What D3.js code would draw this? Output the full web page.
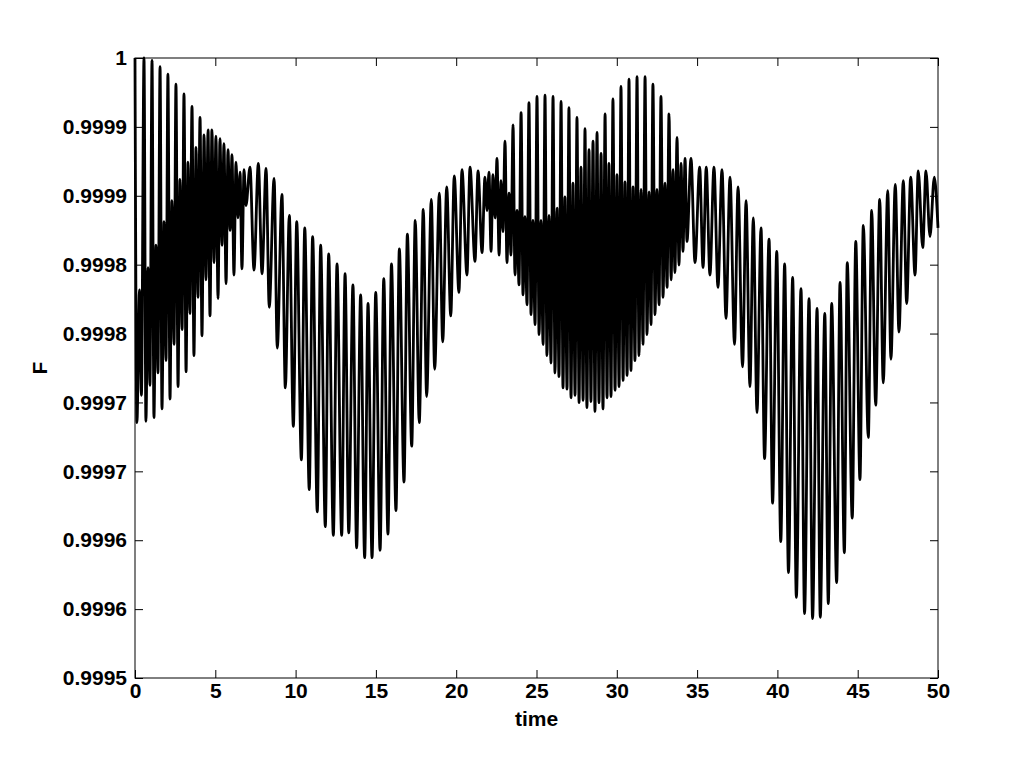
<!DOCTYPE html>
<html>
<head>
<meta charset="utf-8">
<script src="https://cdn.jsdelivr.net/npm/d3@7"></script>
<style>
  body { margin: 0; background: #fff; }
  text { font-family: "Liberation Sans", Arial, Helvetica, sans-serif; font-weight: bold; }
</style>
</head>
<body>
<script>
const segA = [
  [0, 1.000000], [0.12, 0.999706], [0.28, 0.999813], [0.40, 0.999728],
  [0.56, 1.000000], [0.68, 0.999707], [0.81, 0.999831], [0.93, 0.999736],
  [1.06, 0.999998], [1.18, 0.999710], [1.31, 0.999849], [1.43, 0.999746],
  [1.56, 0.999993], [1.68, 0.999717], [1.81, 0.999868], [1.93, 0.999756],
  [2.05, 0.999987], [2.18, 0.999725], [2.30, 0.999885], [2.43, 0.999769],
  [2.55, 0.999979], [2.68, 0.999735], [2.80, 0.999902], [2.93, 0.999781],
  [3.05, 0.999971], [3.18, 0.999747], [3.30, 0.999916], [3.42, 0.999794],
  [3.55, 0.999961], [3.67, 0.999760], [3.80, 0.999928], [3.92, 0.999807],
  [4.05, 0.999952], [4.17, 0.999776], [4.30, 0.999938], [4.42, 0.999821],
  [4.55, 0.999942], [4.67, 0.999792], [4.79, 0.999942], [4.92, 0.999835],
  [5.04, 0.999937], [5.17, 0.999806], [5.29, 0.999935], [5.42, 0.999849],
  [5.54, 0.999931], [5.67, 0.999818], [5.79, 0.999926], [5.92, 0.999861],
  [6.04, 0.999922], [6.16, 0.999825], [6.29, 0.999916], [6.41, 0.999871],
  [6.54, 0.999908], [6.66, 0.999830], [6.79, 0.999910], [6.91, 0.999881]
];

const segB = [
  [7.16, 0.999912], [7.41, 0.999829], [7.68, 0.999915], [7.91, 0.999826],
  [8.16, 0.999911], [8.36, 0.999799], [8.66, 0.999903], [8.86, 0.999766],
  [9.15, 0.999890], [9.36, 0.999734], [9.61, 0.999873], [9.86, 0.999703],
  [10.07, 0.999868], [10.36, 0.999676], [10.57, 0.999863], [10.85, 0.999652],
  [11.06, 0.999856], [11.35, 0.999634], [11.56, 0.999849], [11.85, 0.999622],
  [12.06, 0.999842], [12.35, 0.999615], [12.58, 0.999834], [12.87, 0.999615],
  [13.08, 0.999826], [13.31, 0.999617], [13.57, 0.999817], [13.80, 0.999605],
  [14.05, 0.999809], [14.30, 0.999597], [14.51, 0.999802], [14.76, 0.999597],
  [14.99, 0.999811], [15.26, 0.999603], [15.49, 0.999822], [15.75, 0.999616],
  [15.97, 0.999834], [16.25, 0.999635], [16.46, 0.999846], [16.75, 0.999658],
  [16.96, 0.999858], [17.23, 0.999687], [17.45, 0.999869], [17.70, 0.999706],
  [17.95, 0.999878], [18.16, 0.999727], [18.45, 0.999886], [18.66, 0.999749],
  [18.95, 0.999891], [19.16, 0.999771], [19.41, 0.999896], [19.66, 0.999792],
  [19.88, 0.999905], [20.17, 0.999811], [20.36, 0.999910], [20.67, 0.999825],
  [20.86, 0.999912], [21.17, 0.999836], [21.36, 0.999909], [21.61, 0.999843]
];

const segC = [
  [21.79, 0.999904], [21.92, 0.999877], [22.04, 0.999908], [22.17, 0.999844],
  [22.29, 0.999906], [22.42, 0.999871], [22.54, 0.999919], [22.67, 0.999841],
  [22.79, 0.999901], [22.91, 0.999860], [23.04, 0.999933], [23.16, 0.999835],
  [23.29, 0.999891], [23.41, 0.999841], [23.54, 0.999946], [23.66, 0.999825],
  [23.79, 0.999877], [23.91, 0.999817], [24.04, 0.999956], [24.16, 0.999809],
  [24.28, 0.999872], [24.41, 0.999801], [24.53, 0.999964], [24.66, 0.999793],
  [24.78, 0.999869], [24.91, 0.999785], [25.03, 0.999969], [25.16, 0.999777],
  [25.28, 0.999869], [25.41, 0.999769], [25.53, 0.999970], [25.65, 0.999760],
  [25.78, 0.999873], [25.90, 0.999754], [26.03, 0.999969], [26.15, 0.999746],
  [26.28, 0.999879], [26.40, 0.999743], [26.53, 0.999965], [26.65, 0.999734],
  [26.77, 0.999888], [26.90, 0.999733], [27.02, 0.999960], [27.15, 0.999726],
  [27.27, 0.999899], [27.40, 0.999728], [27.52, 0.999952], [27.65, 0.999722],
  [27.77, 0.999912], [27.90, 0.999724], [28.02, 0.999943], [28.14, 0.999718],
  [28.27, 0.999926], [28.39, 0.999723], [28.52, 0.999933], [28.64, 0.999715],
  [28.77, 0.999940], [28.89, 0.999722], [29.02, 0.999923], [29.14, 0.999717],
  [29.27, 0.999955], [29.39, 0.999726], [29.51, 0.999915], [29.64, 0.999727],
  [29.76, 0.999967], [29.89, 0.999732], [30.01, 0.999906], [30.14, 0.999735],
  [30.26, 0.999977], [30.39, 0.999740], [30.51, 0.999900], [30.64, 0.999744],
  [30.76, 0.999983], [30.88, 0.999748], [31.01, 0.999896], [31.13, 0.999756],
  [31.26, 0.999985], [31.38, 0.999760], [31.51, 0.999894], [31.63, 0.999769],
  [31.76, 0.999985], [31.88, 0.999777], [32.01, 0.999892], [32.13, 0.999785],
  [32.25, 0.999979], [32.38, 0.999793], [32.50, 0.999894], [32.63, 0.999801],
  [32.75, 0.999969], [32.88, 0.999807], [33.00, 0.999899], [33.13, 0.999815],
  [33.25, 0.999955], [33.38, 0.999821], [33.50, 0.999910], [33.62, 0.999827],
  [33.75, 0.999936], [33.87, 0.999833], [34.00, 0.999915], [34.12, 0.999844],
  [34.25, 0.999919], [34.37, 0.999852]
];

const segD = [
  [34.62, 0.999919], [34.87, 0.999835], [35.16, 0.999912], [35.37, 0.999831],
  [35.57, 0.999912], [35.80, 0.999825], [36.05, 0.999912], [36.30, 0.999815],
  [36.55, 0.999910], [36.80, 0.999790], [37.05, 0.999904], [37.33, 0.999769],
  [37.55, 0.999896], [37.83, 0.999751], [38.05, 0.999885], [38.29, 0.999735],
  [38.50, 0.999871], [38.73, 0.999714], [38.98, 0.999863], [39.20, 0.999677],
  [39.48, 0.999854], [39.70, 0.999641], [39.96, 0.999844], [40.21, 0.999610],
  [40.45, 0.999834], [40.69, 0.999585], [40.95, 0.999823], [41.18, 0.999565],
  [41.47, 0.999814], [41.69, 0.999552], [41.97, 0.999806], [42.19, 0.999548],
  [42.47, 0.999798], [42.67, 0.999549], [42.95, 0.999794], [43.17, 0.999560],
  [43.38, 0.999802], [43.69, 0.999577], [43.90, 0.999819], [44.17, 0.999601],
  [44.35, 0.999835], [44.66, 0.999629], [44.88, 0.999852], [45.14, 0.999660],
  [45.35, 0.999865], [45.66, 0.999694], [45.87, 0.999877], [46.12, 0.999720],
  [46.37, 0.999886], [46.59, 0.999738], [46.87, 0.999893], [47.07, 0.999757],
  [47.34, 0.999898], [47.57, 0.999779], [47.84, 0.999901], [48.05, 0.999802],
  [48.30, 0.999904], [48.57, 0.999825], [48.77, 0.999909], [49.05, 0.999847],
  [49.25, 0.999909], [49.50, 0.999856], [49.77, 0.999904], [50, 0.999863]
];

const xTicks = [0, 5, 10, 15, 20, 25, 30, 35, 40, 45, 50];
const yTickLabels = ["0.9995", "0.9996", "0.9996", "0.9997", "0.9997",
                     "0.9998", "0.9998", "0.9999", "0.9999", "1"];

const width = 1036, height = 764;
const mLeft = 135, mRight = 938, mTop = 58, mBottom = 678;

const svg = d3.select("body").append("svg")
  .attr("width", width)
  .attr("height", height);

const x = d3.scaleLinear().domain([0, 50]).range([mLeft, mRight]);
const y = d3.scaleLinear().domain([0.9995, 1]).range([mBottom, mTop]);

const yTicks = yTickLabels.map((d, i) => 0.9995 + i * 0.0005 / 9);

const data = segA.concat(segB, segC, segD);

const line = d3.line()
  .x(d => x(d[0]))
  .y(d => y(d[1]))
  .curve(d3.curveMonotoneX);

svg.append("path")
  .datum(data)
  .attr("d", line)
  .attr("fill", "none")
  .attr("stroke", "#000")
  .attr("stroke-width", 2.8)
  .attr("stroke-linejoin", "round");

// axes, ticks pointing inwards on all four sides
const fs = "21px";

const gb = svg.append("g").attr("transform", "translate(0," + mBottom + ")")
  .call(d3.axisBottom(x).tickValues(xTicks).tickSizeInner(-8).tickSizeOuter(0).tickPadding(5));
const gt = svg.append("g").attr("transform", "translate(0," + mTop + ")")
  .call(d3.axisTop(x).tickValues(xTicks).tickSizeInner(-8).tickSizeOuter(0).tickFormat(""));
const gl = svg.append("g").attr("transform", "translate(" + mLeft + ",0)")
  .call(d3.axisLeft(y).tickValues(yTicks).tickSizeInner(-8).tickSizeOuter(0).tickPadding(8)
    .tickFormat((d, i) => yTickLabels[i]));
const gr = svg.append("g").attr("transform", "translate(" + mRight + ",0)")
  .call(d3.axisRight(y).tickValues(yTicks).tickSizeInner(-8).tickSizeOuter(0).tickFormat(""));

[gb, gt, gl, gr].forEach(g => {
  g.select(".domain").remove();
  g.selectAll("line").attr("stroke", "#000").attr("stroke-width", 1);
  g.selectAll("text")
    .attr("fill", "#000")
    .style("font-size", fs)
    .style("font-weight", "bold")
    .style("font-family", "'Liberation Sans', Arial, sans-serif");
});

svg.append("rect")
  .attr("x", mLeft).attr("y", mTop)
  .attr("width", mRight - mLeft).attr("height", mBottom - mTop)
  .attr("fill", "none")
  .attr("stroke", "#000")
  .attr("stroke-width", 1);

svg.append("text")
  .attr("x", (mLeft + mRight) / 2)
  .attr("y", 726)
  .attr("text-anchor", "middle")
  .style("font-size", fs)
  .text("time");

svg.append("text")
  .attr("transform", "translate(47," + ((mTop + mBottom) / 2) + ") rotate(-90)")
  .attr("text-anchor", "middle")
  .style("font-size", fs)
  .text("F");
</script>
</body>
</html>
